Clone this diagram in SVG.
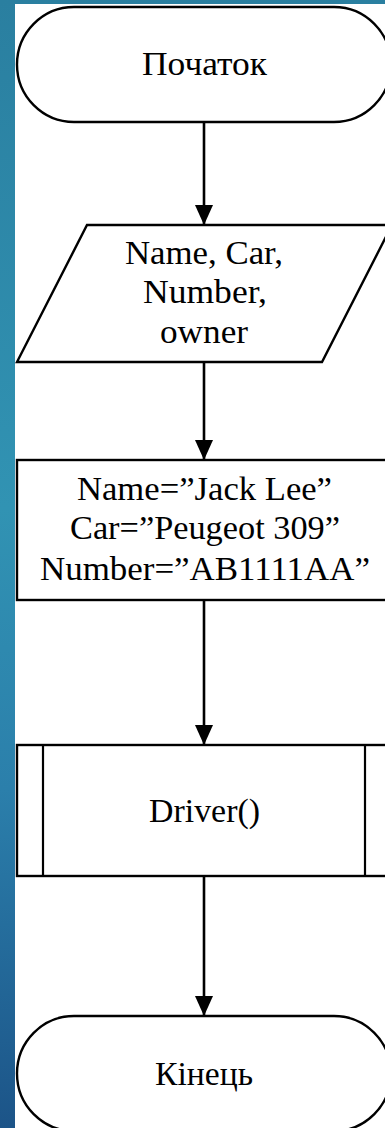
<svg xmlns="http://www.w3.org/2000/svg" width="385" height="1128" viewBox="0 0 385 1128">
  <defs>
    <linearGradient id="bg" x1="0" y1="0" x2="0" y2="1">
      <stop offset="0" stop-color="#2a7fa0"/>
      <stop offset="0.45" stop-color="#3193b3"/>
      <stop offset="0.7" stop-color="#2b7fab"/>
      <stop offset="1" stop-color="#1c5488"/>
    </linearGradient>
    <marker id="arrow" viewBox="0 0 20 20" markerWidth="20" markerHeight="20" refX="20" refY="10" orient="auto" markerUnits="userSpaceOnUse">
      <path d="M0,1 L20,10 L0,19 Z" fill="#000"/>
    </marker>
  </defs>
  <style>
    .shape { fill: #fff; stroke: #000; stroke-width: 2.4; }
    .bar { stroke: #000; stroke-width: 2.2; }
    .conn { fill: none; stroke: #000; stroke-width: 2.6; marker-end: url(#arrow); }
    .lbl { font-family: 'Liberation Serif', 'DejaVu Serif', serif; font-size: 33px; fill: #000; text-anchor: middle; }
  </style>

  <!-- page background -->
  <rect x="0" y="0" width="385" height="1128" fill="url(#bg)"/>
  <rect x="15" y="4" width="370" height="1124" fill="#fff"/>

  <!-- start terminator -->
  <g id="start">
    <path class="shape" d="M74,7 H334 A57,57.5 0 0 1 334,122 H74 A57,57.5 0 0 1 74,7 Z"/>
    <text class="lbl" x="204.5" y="75" textLength="125" lengthAdjust="spacingAndGlyphs">Початок</text>
  </g>

  <!-- input data -->
  <g id="input">
    <path class="shape" d="M87,225 H392 L322,362 H17 Z"/>
    <text class="lbl" x="204" y="264" textLength="158" lengthAdjust="spacingAndGlyphs">Name, Car,</text>
    <text class="lbl" x="205" y="303" textLength="124" lengthAdjust="spacingAndGlyphs">Number,</text>
    <text class="lbl" x="204" y="343" textLength="88" lengthAdjust="spacingAndGlyphs">owner</text>
  </g>

  <!-- assignment process -->
  <g id="assign">
    <rect class="shape" x="17" y="460" width="374" height="140"/>
    <text class="lbl" x="204.5" y="500" textLength="255" lengthAdjust="spacingAndGlyphs">Name=”Jack Lee”</text>
    <text class="lbl" x="205" y="539" textLength="270" lengthAdjust="spacingAndGlyphs">Car=”Peugeot 309”</text>
    <text class="lbl" x="205" y="580" textLength="330" lengthAdjust="spacingAndGlyphs">Number=”AB1111AA”</text>
  </g>

  <!-- predefined process call -->
  <g id="driver">
    <rect class="shape" x="17" y="745" width="374" height="131"/>
    <line class="bar" x1="43" y1="745" x2="43" y2="876"/>
    <line class="bar" x1="365" y1="745" x2="365" y2="876"/>
    <text class="lbl" x="204.5" y="822" textLength="111" lengthAdjust="spacingAndGlyphs">Driver()</text>
  </g>

  <!-- end terminator -->
  <g id="end">
    <path class="shape" d="M74,1016 H334 A57,57.5 0 0 1 334,1131 H74 A57,57.5 0 0 1 74,1016 Z"/>
    <text class="lbl" x="204" y="1085" textLength="98" lengthAdjust="spacingAndGlyphs">Кінець</text>
  </g>

  <!-- connectors -->
  <g id="connectors">
    <path class="conn" d="M204,122 V225"/>
    <path class="conn" d="M204,362 V460"/>
    <path class="conn" d="M204,600 V745"/>
    <path class="conn" d="M204,876 V1016"/>
  </g>
</svg>
